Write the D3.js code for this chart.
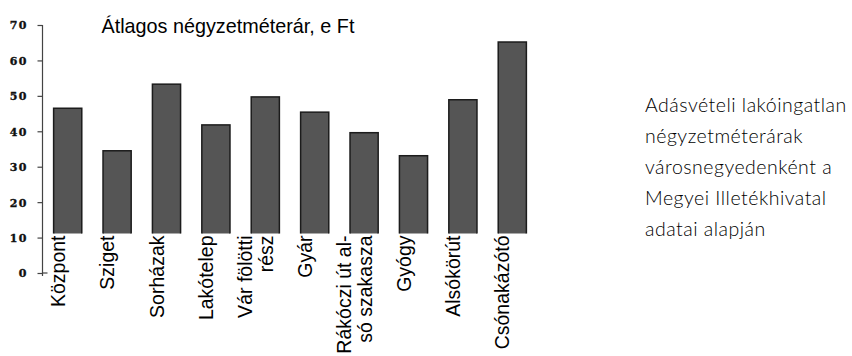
<!DOCTYPE html>
<html>
<head>
<meta charset="utf-8">
<script src="https://cdn.jsdelivr.net/npm/d3@7"></script>
<style>
  html, body { margin: 0; padding: 0; background: #fff; }
  svg { display: block; }
</style>
</head>
<body>
<svg id="chart" width="852" height="356"></svg>
<script>
// Városnegyedek (a tördelt nevek soronként)
const categories = [
  ["Központ"],
  ["Sziget"],
  ["Sorházak"],
  ["Lakótelep"],
  ["Vár fölötti", "rész"],
  ["Gyár"],
  ["Rákóczi út al-", "só szakasza"],
  ["Gyógy"],
  ["Alsókörút"],
  ["Csónakázótó"]
];
// Átlagos négyzetméterár, ezer Ft
const values = [46.5, 34.5, 53.3, 41.8, 49.7, 45.4, 39.6, 33.1, 48.9, 65.2];
const yTicks = [0, 10, 20, 30, 40, 50, 60, 70];
const title = "Átlagos négyzetméterár, e Ft";
const note = [
  "Adásvételi lakóingatlan",
  "négyzetméterárak",
  "városnegyedenként a",
  "Megyei Illetékhivatal",
  "adatai alapján"
];

const svg = d3.select("#chart");

const axisX = 42.5;
const labelTop = 235.5;

const x = d3.scaleBand()
  .domain(d3.range(categories.length))
  .range([43, 537])
  .paddingInner(0.43)
  .paddingOuter(0.215);

const y = d3.scaleLinear()
  .domain([0, 70])
  .range([273, 25]);

// Az oszlopok a feliratsáv tetejéig látszanak
svg.append("clipPath").attr("id", "plotClip")
  .append("rect")
  .attr("x", 0).attr("y", 0)
  .attr("width", 852).attr("height", labelTop - 2);

svg.append("g")
  .attr("clip-path", "url(#plotClip)")
  .selectAll("rect")
  .data(values)
  .join("rect")
  .attr("x", (d, i) => x(i))
  .attr("y", d => y(d))
  .attr("width", x.bandwidth())
  .attr("height", d => y(0) - y(d))
  .attr("fill", "#555555")
  .attr("stroke", "#1c1c1c")
  .attr("stroke-width", 1.5);

// Függőleges tengely
const yAxis = d3.axisLeft(y)
  .tickValues(yTicks)
  .tickSize(5)
  .tickPadding(0)
  .tickFormat(d3.format("d"));

const gy = svg.append("g")
  .attr("transform", `translate(${axisX},0)`)
  .call(yAxis);

gy.attr("font-family", "'DejaVu Serif', serif")
  .attr("font-size", 11);

gy.select(".domain")
  .attr("d", `M0,${y(70)}V${y(0) + 3}`)
  .attr("stroke", "#444")
  .attr("stroke-width", 1.2);

gy.selectAll(".tick line")
  .attr("stroke", "#444")
  .attr("stroke-width", 1.2);

gy.selectAll(".tick text")
  .attr("x", -15)
  .attr("dy", "0.36em")
  .attr("fill", "#111")
  .attr("stroke", "#111")
  .attr("stroke-width", 0.35)
  .attr("font-weight", "bold")
  .style("letter-spacing", "1.2px");

// A nulla-vonal rövid jele a tengely jobb oldalán
gy.append("line")
  .attr("x1", 0).attr("x2", 5)
  .attr("y1", y(0)).attr("y2", y(0))
  .attr("stroke", "#444")
  .attr("stroke-width", 1.2);

// Kategóriafeliratok függőlegesen
const lineGap = 21;
const labels = svg.append("g")
  .style("font-family", "'Liberation Sans', Arial, sans-serif")
  .style("font-size", "19.5px")
  .attr("fill", "#000");

labels.selectAll("text")
  .data(categories)
  .join("text")
  .attr("transform", (d, i) => {
    const c = x(i) + x.bandwidth() / 2 - 3 - (d.length - 1) * lineGap / 2;
    return `translate(${c},${labelTop}) rotate(-90)`;
  })
  .attr("text-anchor", "end")
  .each(function (lines) {
    d3.select(this).selectAll("tspan")
      .data(lines)
      .join("tspan")
      .attr("x", 0)
      .attr("dy", (d, j) => j === 0 ? 0 : lineGap)
      .text(d => d);
  });

// Cím
svg.append("text")
  .attr("x", 101.5)
  .attr("y", 33)
  .style("font-family", "'Liberation Sans', Arial, sans-serif")
  .style("font-size", "19.8px")
  .attr("fill", "#000")
  .text(title);

// Magyarázó szöveg jobb oldalon
svg.append("g")
  .style("font-family", "Lato, 'Open Sans', sans-serif")
  .style("font-weight", 300)
  .style("font-size", "19.5px")
  .style("letter-spacing", "0.5px")
  .attr("fill", "#000")
  .selectAll("text")
  .data(note)
  .join("text")
  .attr("x", 645)
  .attr("y", (d, i) => 112 + i * 31)
  .text(d => d);
</script>
</body>
</html>
